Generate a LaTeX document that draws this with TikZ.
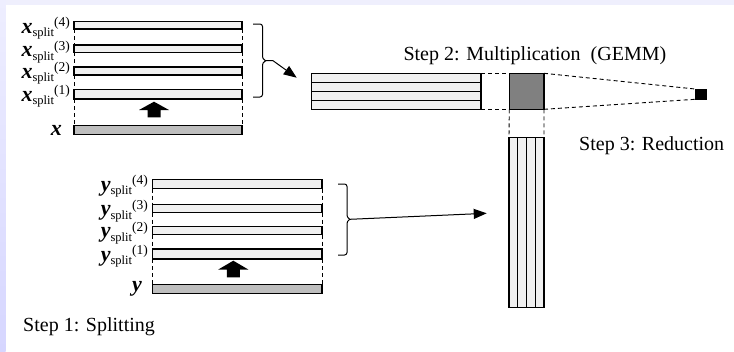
\documentclass[tikz,border=0pt]{standalone}
\usepackage{fontspec}
\setmainfont{Liberation Serif}
\usetikzlibrary{arrows.meta,calc}
\definecolor{lavtop}{HTML}{EFEFFD}
\definecolor{lavA}{HTML}{EEEEFF}
\definecolor{lavB}{HTML}{D6D6FF}
\definecolor{barfill}{HTML}{F0F0F0}
\definecolor{basefill}{HTML}{BEBEBE}
\definecolor{sqfill}{HTML}{808080}
\newcommand{\splitlbl}[2]{{\fontsize{22}{22}\selectfont\bfseries\itshape #1}\raisebox{-3.5pt}{\fontsize{12.5}{12.5}\selectfont split}\raisebox{6.5pt}{\fontsize{13.5}{13.5}\selectfont (#2)}}
\begin{document}
\begin{tikzpicture}[x=1pt,y=-1pt,
  bar/.style={draw=black,line width=1.1pt,fill=barfill,inner sep=0pt,outer sep=0pt},
  basebar/.style={bar,fill=basefill},
  lbl/.style={anchor=base east,inner sep=0pt},
  steptxt/.style={anchor=base west,inner sep=0pt,font=\fontsize{20}{24}\selectfont},
  dsh/.style={line width=0.9pt,dash pattern=on 4pt off 3pt},
  conn/.style={line width=1pt,-{Triangle[length=13pt,width=10pt]}},
  bracestyle/.style={line width=1pt,rounded corners=2.5pt},
  blockarrow/.style={fill=black}]
\useasboundingbox (0,0) rectangle (734,351);
\fill[white] (0,0) rectangle (734,351);
\fill[lavtop] (0,0) rectangle (734,4.7);
\shade[top color=lavA,bottom color=lavB] (0,0) rectangle (5.5,351);

% x bars
\node[bar,minimum width=168pt,minimum height=7.3pt] (xs4) at (158,25.35) {};
\node[bar,minimum width=168pt,minimum height=7.3pt] (xs3) at (158,48.65) {};
\node[bar,minimum width=168pt,minimum height=8pt] (xs2) at (158,71) {};
\node[bar,minimum width=168pt,minimum height=9.7pt] (xs1) at (158,94.15) {};
\node[basebar,minimum width=168pt,minimum height=9pt] (xb) at (158,130.2) {};
\foreach \a/\b in {xs4/xs3,xs3/xs2,xs2/xs1,xs1/xb}{
  \draw[dsh] (\a.south west) -- (\b.north west);
  \draw[dsh] (\a.south east) -- (\b.north east);
}
\node[lbl] (lx4) at (70,33.3) {\splitlbl{x}{4}};
\node[lbl] (lx3) at (70,56.7) {\splitlbl{x}{3}};
\node[lbl] (lx2) at (70,78.3) {\splitlbl{x}{2}};
\node[lbl] (lx1) at (70,101) {\splitlbl{x}{1}};
\node[lbl] (lx) at (62,135) {\fontsize{22}{22}\selectfont\bfseries\itshape x};
\fill[blockarrow] (154,101.7) -- (169,110) -- (160.5,110) -- (160.5,117.3) -- (147.5,117.3) -- (147.5,110) -- (139,110) -- cycle;

% y bars
\node[bar,minimum width=169.7pt,minimum height=9.4pt] (ys4) at (237.15,184) {};
\node[bar,minimum width=169.7pt,minimum height=8.4pt] (ys3) at (237.15,208.5) {};
\node[bar,minimum width=169.7pt,minimum height=8pt] (ys2) at (237.15,230.7) {};
\node[bar,minimum width=169.7pt,minimum height=10pt] (ys1) at (237.15,254) {};
\node[basebar,minimum width=169.7pt,minimum height=9.3pt] (yb) at (237.15,288.7) {};
\foreach \a/\b in {ys4/ys3,ys3/ys2,ys2/ys1,ys1/yb}{
  \draw[dsh] (\a.south west) -- (\b.north west);
  \draw[dsh] (\a.south east) -- (\b.north east);
}
\node[lbl] (ly4) at (148,191) {\splitlbl{y}{4}};
\node[lbl] (ly3) at (148,215.5) {\splitlbl{y}{3}};
\node[lbl] (ly2) at (148,237.7) {\splitlbl{y}{2}};
\node[lbl] (ly1) at (148,261) {\splitlbl{y}{1}};
\node[lbl] (ly) at (142,291) {\fontsize{22}{22}\selectfont\bfseries\itshape y};
\fill[blockarrow] (233.3,260.7) -- (248.3,269.5) -- (239.8,269.5) -- (239.8,277.3) -- (226.8,277.3) -- (226.8,269.5) -- (218.3,269.5) -- cycle;

% braces and connectors
\coordinate (xbt) at (266,60.7);
\coordinate (xae) at (296.7,77.7);
\coordinate (ybt) at (350,219.3);
\coordinate (yae) at (486.7,213.3);
\draw[bracestyle] (253,24) -- (262.5,24) -- (262.5,59) -- (xbt);
\draw[bracestyle] (xbt) -- (262.5,62.5) -- (262.5,97) -- (253,97);
\draw[bracestyle] (338,184) -- (347,184) -- (347,217.5) -- (ybt);
\draw[bracestyle] (ybt) -- (347,221) -- (347,255) -- (338,255);
\draw[conn] (xbt) -- ++(7,0) -- (xae);
\draw[conn] (ybt) -- (yae);

% GEMM
\node[bar,minimum width=169.3pt,minimum height=36pt] (hs) at (396.35,91.3) {};
\foreach \f in {0.25,0.5,0.75}
  \draw[line width=1.1pt] ($(hs.north west)!\f!(hs.south west)$) -- ($(hs.north east)!\f!(hs.south east)$);
\node[bar,fill=sqfill,minimum width=34.7pt,minimum height=36pt] (sq) at (526.65,91.3) {};
\node[bar,minimum width=35pt,minimum height=170pt] (vs) at (526.5,222.3) {};
\foreach \f in {0.25,0.5,0.75}
  \draw[line width=1.1pt] ($(vs.north west)!\f!(vs.north east)$) -- ($(vs.south west)!\f!(vs.south east)$);
\node[draw=black,fill=black,inner sep=0pt,outer sep=0pt,minimum width=11pt,minimum height=10.3pt] (res) at (700.5,94.15) {};
\draw[dsh] (hs.north east) -- (sq.north west);
\draw[dsh] (hs.south east) -- (sq.south west);
\draw[dsh] (sq.south west) -- (vs.north west);
\draw[dsh] (sq.south east) -- (vs.north east);
\draw[dsh] (sq.north east) -- (res.north west);
\draw[dsh] (sq.south east) -- (res.south west);

% step labels
\node[steptxt] (s1) at (23,331.7) {Step 1: Splitting};
\node[steptxt] (s2) at (403.3,60) {Step 2: Multiplication\ \ (GEMM)};
\node[steptxt] (s3) at (579,150) {Step 3: Reduction};
\end{tikzpicture}
\end{document}
